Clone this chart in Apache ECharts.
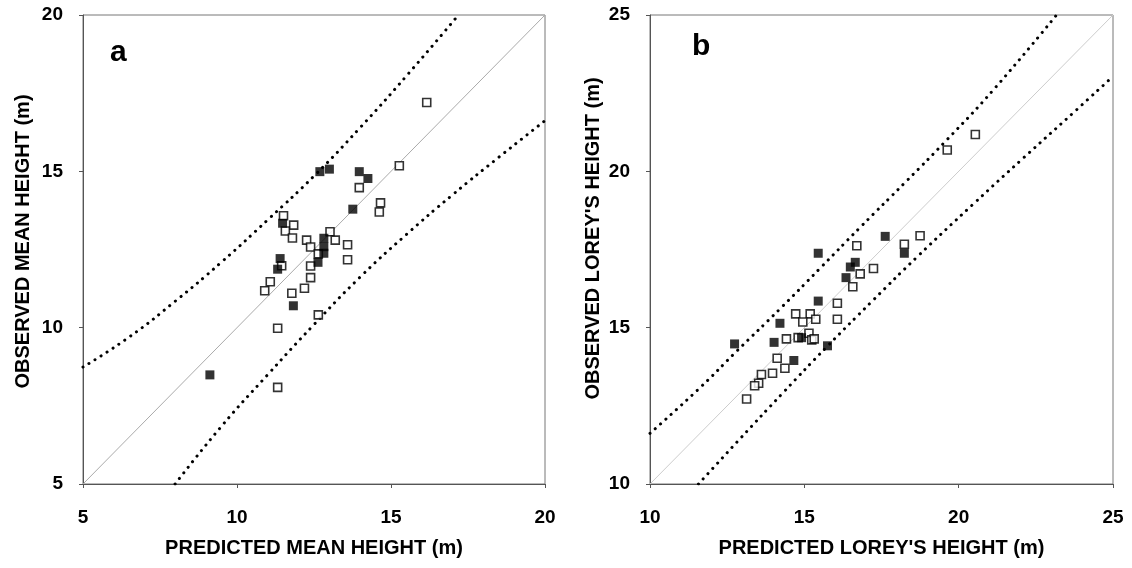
<!DOCTYPE html>
<html lang="en">
<head>
	<meta charset="UTF-8">
	<title>Observed vs predicted height</title>
	<style>
		html, body { margin: 0; padding: 0; background: #fff; }
	</style>
</head>
<body>
	<div id="main" style="width: 1132px;height: 568px"></div>
	<script src="https://cdn.jsdelivr.net/npm/echarts@6/dist/echarts.min.js"></script>
	<script>
		// panel a: mean height
		var meanOpen = [
			[16.16, 17.20], [15.27, 15.18], [13.97, 14.48], [14.66, 13.99], [14.62, 13.70],
			[11.51, 13.58], [11.84, 13.28], [11.57, 13.09], [11.80, 12.87], [12.26, 12.80],
			[12.39, 12.58], [13.02, 13.07], [13.19, 12.80], [13.59, 12.65], [13.59, 12.17],
			[12.64, 12.36], [12.39, 11.97], [12.39, 11.60], [11.45, 11.98], [11.08, 11.47],
			[10.90, 11.18], [11.78, 11.10], [12.19, 11.26], [12.64, 10.41], [11.32, 9.98],
			[11.32, 8.09]
		];
		var meanFilled = [
			[13.00, 15.07], [12.69, 14.99], [13.97, 14.99], [14.25, 14.77], [13.76, 13.79],
			[11.48, 13.34], [12.82, 12.86], [12.82, 12.59], [12.82, 12.38], [12.63, 12.09],
			[11.40, 12.21], [11.32, 11.87], [11.83, 10.70], [9.12, 8.49]
		];
		var meanUpper = [
			[5.0, 8.74], [6.5, 9.7], [8.0, 10.85], [9.5, 12.1], [11.0, 13.45],
			[12.5, 14.85], [14.0, 16.4], [15.5, 18.05], [17.19, 20.0]
		];
		var meanLower = [
			[7.99, 5.0], [9.5, 6.85], [11.0, 8.5], [12.5, 10.1], [14.0, 11.62],
			[15.5, 12.98], [17.0, 14.25], [18.5, 15.45], [20.0, 16.62]
		];
		var meanOneToOne = [[5, 5], [20, 20]];

		// panel b: Lorey's height
		var loreyOpen = [
			[20.54, 21.18], [19.63, 20.68], [18.75, 17.94], [18.24, 17.67], [16.70, 17.62],
			[17.24, 16.89], [16.81, 16.72], [16.57, 16.31], [16.07, 15.78], [16.07, 15.27],
			[14.72, 15.44], [15.19, 15.44], [14.95, 15.18], [15.37, 15.27], [14.42, 14.64],
			[14.80, 14.68], [15.15, 14.82], [15.24, 14.61], [15.32, 14.64], [14.12, 14.02],
			[14.37, 13.70], [13.97, 13.54], [13.61, 13.50], [13.52, 13.22], [13.39, 13.14],
			[13.13, 12.72]
		];
		var loreyFilled = [
			[17.62, 17.92], [18.24, 17.38], [15.45, 17.38], [16.65, 17.09], [16.49, 16.94],
			[16.35, 16.60], [15.45, 15.85], [14.21, 15.14], [14.02, 14.53], [12.74, 14.48],
			[14.91, 14.68], [14.66, 13.95], [15.75, 14.42]
		];
		var loreyUpper = [
			[10.0, 11.62], [11.62, 13.08], [12.81, 14.25], [14.21, 15.6], [15.51, 16.9],
			[16.80, 18.2], [18.32, 19.7], [19.61, 21.0], [21.12, 22.6], [23.17, 25.0]
		];
		var loreyLower = [
			[11.57, 10.0], [12.92, 11.45], [14.32, 12.93], [15.72, 14.38], [17.23, 15.88],
			[18.64, 17.25], [20.47, 18.95], [22.09, 20.42], [23.71, 21.87], [24.85, 22.9]
		];
		var loreyOneToOne = [[10, 10], [25, 25]];

		var axisFont = 'Liberation Sans, Arial, sans-serif';

		function makeX(idx, min, max, name) {
			return {
				gridIndex: idx, type: 'value', min: min, max: max, interval: 5,
				name: name, nameLocation: 'middle', nameGap: 54,
				nameTextStyle: { fontFamily: axisFont, fontWeight: 'bold', fontSize: 20, color: '#000' },
				axisLine: { show: true, lineStyle: { color: '#555', width: 1 } },
				axisTick: { show: true, inside: false, length: 4, lineStyle: { color: '#555' } },
				axisLabel: { margin: 24, fontFamily: axisFont, fontWeight: 'bold', fontSize: 19, color: '#000' },
				splitLine: { show: false }
			};
		}
		function makeY(idx, min, max, name, gap, shift) {
			return {
				gridIndex: idx, type: 'value', min: min, max: max, interval: 5,
				name: name, nameLocation: 'middle', nameGap: gap,
				nameTextStyle: { fontFamily: axisFont, fontWeight: 'bold', fontSize: 20, color: '#000', padding: [0, 0, 0, shift] },
				axisLine: { show: true, lineStyle: { color: '#555', width: 1 } },
				axisTick: { show: true, inside: false, length: 4, lineStyle: { color: '#555' } },
				axisLabel: { margin: 20, fontFamily: axisFont, fontWeight: 'bold', fontSize: 19, color: '#000' },
				splitLine: { show: false }
			};
		}

		function openSeries(idx, data) {
			return {
				type: 'scatter', xAxisIndex: idx, yAxisIndex: idx, data: data,
				symbol: 'rect', symbolSize: 8, z: 4,
				itemStyle: { color: '#fff', borderColor: '#000', borderWidth: 1.6 }
			};
		}
		function filledSeries(idx, data) {
			return {
				type: 'scatter', xAxisIndex: idx, yAxisIndex: idx, data: data,
				symbol: 'rect', symbolSize: 9, z: 5,
				itemStyle: { color: '#000' }
			};
		}
		function limitSeries(idx, data) {
			return {
				type: 'line', xAxisIndex: idx, yAxisIndex: idx, data: data,
				smooth: true, symbol: 'none', z: 3,
				lineStyle: { color: '#000', width: 3, type: [0.1, 7], cap: 'round' }
			};
		}
		function diagSeries(idx, data, col) {
			return {
				type: 'line', xAxisIndex: idx, yAxisIndex: idx, data: data,
				symbol: 'none', z: 2,
				lineStyle: { color: col, width: 1 }
			};
		}

		var myChart = echarts.init(document.getElementById('main'));
		var option = {
			backgroundColor: '#fff',
			animation: false,
			grid: [
				{ left: 83, top: 15, right: 587, bottom: 84, show: true, borderColor: '#777', borderWidth: 1 },
				{ left: 650, top: 15, right: 19, bottom: 84, show: true, borderColor: '#777', borderWidth: 1 }
			],
			xAxis: [
				makeX(0, 5, 20, 'PREDICTED MEAN HEIGHT (m)'),
				makeX(1, 10, 25, "PREDICTED LOREY'S HEIGHT (m)")
			],
			yAxis: [
				makeY(0, 5, 20, 'OBSERVED MEAN HEIGHT (m)', 50, 16),
				makeY(1, 10, 25, "OBSERVED LOREY'S HEIGHT (m)", 47, 22)
			],
			graphic: [
				{ type: 'text', left: 110, top: 38, style: { text: 'a', fontFamily: axisFont, fontWeight: 'bold', fontSize: 30, fill: '#000' } },
				{ type: 'text', left: 692, top: 32, style: { text: 'b', fontFamily: axisFont, fontWeight: 'bold', fontSize: 30, fill: '#000' } }
			],
			series: [
				diagSeries(0, meanOneToOne, '#aaa'),
				limitSeries(0, meanUpper),
				limitSeries(0, meanLower),
				openSeries(0, meanOpen),
				filledSeries(0, meanFilled),
				diagSeries(1, loreyOneToOne, '#ccc'),
				limitSeries(1, loreyUpper),
				limitSeries(1, loreyLower),
				openSeries(1, loreyOpen),
				filledSeries(1, loreyFilled)
			]
		};

		myChart.setOption(option);
	</script>
</body>
</html>
